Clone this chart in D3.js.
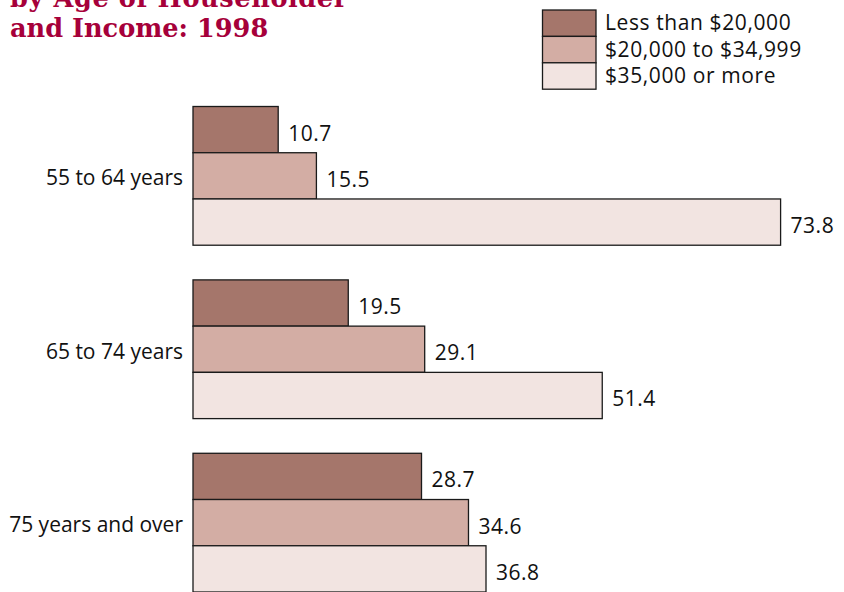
<!DOCTYPE html>
<html>
<head>
<meta charset="utf-8">
<script src="https://cdn.jsdelivr.net/npm/d3@7"></script>
<style>
  html, body { margin: 0; padding: 0; background: #fff; }
  svg { display: block; }
</style>
</head>
<body>
<svg id="chart" width="844" height="592"></svg>
<script>
const titleLines = ["by Age of Householder", "and Income: 1998"];
const categories = ["55 to 64 years", "65 to 74 years", "75 years and over"];
const seriesNames = ["Less than $20,000", "$20,000 to $34,999", "$35,000 or more"];
const lessThan20k = [10.7, 19.5, 28.7];
const from20kTo35k = [15.5, 29.1, 34.6];
const over35k = [73.8, 51.4, 36.8];
const seriesColors = ["#a5766b", "#d3ada4", "#f2e4e1"];

const seriesValues = [lessThan20k, from20kTo35k, over35k];
const data = categories.map((c, i) => ({
  category: c,
  values: seriesNames.map((s, j) => ({ series: s, value: seriesValues[j][i] }))
}));

const svg = d3.select("#chart");

const x = d3.scaleLinear().domain([0, 80]).range([193, 193 + 80 * 7.962]);
const y0 = d3.scaleBand().domain(categories).range([106.5, 592]).paddingInner(0.2).paddingOuter(0);
const y1 = d3.scaleBand().domain(seriesNames).range([0, y0.bandwidth()]).padding(0);
const color = d3.scaleOrdinal().domain(seriesNames).range(seriesColors);

// Title (upper line runs off the top edge, as in the source)
const title = svg.append("text")
  .attr("x", 10)
  .attr("fill", "#a6003a")
  .attr("font-family", "'DejaVu Serif', serif")
  .attr("font-weight", "bold")
  .attr("font-size", 25.6);
titleLines.forEach((t, i) => {
  title.append("tspan")
    .attr("x", 10)
    .attr("y", 37 - (titleLines.length - 1 - i) * 30)
    .attr("letter-spacing", i === 0 ? 0.6 : 0)
    .text(t);
});

// Bars
const groups = svg.append("g").selectAll("g")
  .data(data)
  .join("g")
  .attr("transform", d => `translate(0,${y0(d.category)})`);

groups.selectAll("rect")
  .data(d => d.values)
  .join("rect")
  .attr("x", x(0))
  .attr("y", d => y1(d.series))
  .attr("width", d => x(d.value) - x(0))
  .attr("height", y1.bandwidth())
  .attr("fill", d => color(d.series))
  .attr("stroke", "#1a1a1a")
  .attr("stroke-width", 1.3);

groups.selectAll("text.val")
  .data(d => d.values)
  .join("text")
  .attr("class", "val")
  .attr("x", d => x(d.value) + 10)
  .attr("y", d => y1(d.series) + y1.bandwidth() / 2 + 11)
  .attr("font-family", "'Open Sans', sans-serif")
  .attr("font-size", 21)
  .attr("letter-spacing", 0.5)
  .attr("fill", "#111")
  .text(d => d.value.toFixed(1));

// Category labels
const yAxis = d3.axisLeft(y0).tickSize(0).tickPadding(10);
const axisG = svg.append("g")
  .attr("transform", `translate(${x(0)},0)`)
  .call(yAxis);
axisG.select(".domain").remove();
axisG.selectAll("text")
  .attr("font-family", "'Open Sans', sans-serif")
  .attr("font-size", 21)
  .attr("fill", "#111")
  .attr("dy", "0.45em");

// Legend
const legend = svg.append("g").attr("transform", "translate(542.5,10)");
const lh = 26.4;
const li = legend.selectAll("g").data(seriesNames).join("g")
  .attr("transform", (d, i) => `translate(0,${i * lh})`);
li.append("rect")
  .attr("width", 53.5)
  .attr("height", lh)
  .attr("fill", d => color(d))
  .attr("stroke", "#1a1a1a")
  .attr("stroke-width", 1.3);
li.append("text")
  .attr("x", 62.5)
  .attr("y", lh / 2 + 7)
  .attr("font-family", "'Open Sans', sans-serif")
  .attr("font-size", 21)
  .attr("letter-spacing", 0.6)
  .attr("fill", "#111")
  .text(d => d);
</script>
</body>
</html>
